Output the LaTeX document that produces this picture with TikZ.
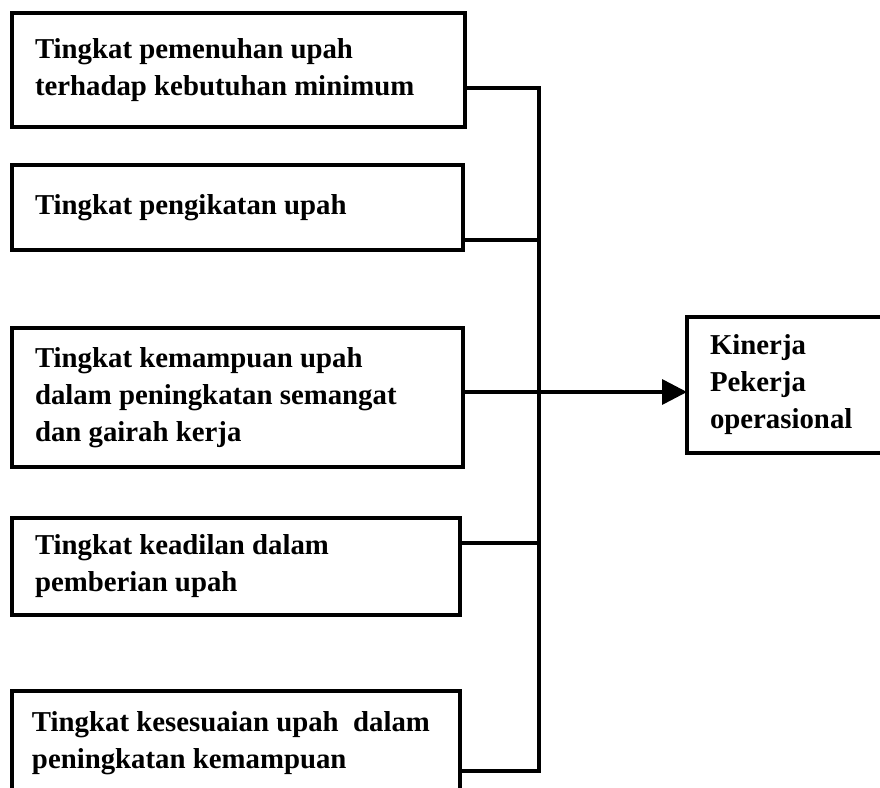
\documentclass[tikz,border=0pt]{standalone}
\usepackage{fontspec}
\setmainfont{Liberation Serif}
\usetikzlibrary{positioning}
\usetikzlibrary{arrows.meta}

\begin{document}
\begin{tikzpicture}[x=0.5pt,y=-0.5pt,line width=1.8pt,font=\fontsize{14.4}{18.5}\selectfont\bfseries,
	factor/.style={draw,line width=2.2pt,align=flush left,inner xsep=11.5pt,inner ysep=0pt,outer sep=0pt}]
	\useasboundingbox (0,0) rectangle (880,788);
	\clip (0,0) rectangle (880,788);

	\node [factor,anchor=north west,text width=203.5pt,minimum height=57pt] at (12,13) (pemenuhan) {Tingkat pemenuhan upah\\terhadap kebutuhan minimum};
	\node [factor,below=19pt of pemenuhan.south west,anchor=north west,text width=202.5pt,minimum height=42.5pt] (pengikatan) {Tingkat pengikatan upah};
	\node [factor,below=39pt of pengikatan.south west,anchor=north west,text width=202.5pt,minimum height=69.5pt] (kemampuan) {Tingkat kemampuan upah\\dalam peningkatan semangat\\dan gairah kerja};
	\node [factor,below=25.5pt of kemampuan.south west,anchor=north west,text width=201pt,minimum height=48.5pt] (keadilan) {Tingkat keadilan dalam\\pemberian upah};
	\node [factor,below=38pt of keadilan.south west,anchor=north west,text width=204pt,inner xsep=10pt,minimum height=52pt] (kesesuaian) {Tingkat kesesuaian upah~ dalam\\peningkatan kemampuan};

	\node [factor,anchor=north west,text width=97pt,minimum height=68pt] at (687,317) (kinerja) {Kinerja\\Pekerja\\operasional};

	% bus line
	\coordinate (bus) at (539,0);
	\coordinate (out1) at ([yshift=-9pt]pemenuhan.east);
	\coordinate (out2) at ([yshift=-16.25pt]pengikatan.east);
	\coordinate (out3) at ([yshift=2.75pt]kemampuan.east);
	\coordinate (out4) at ([yshift=11.75pt]keadilan.east);
	\coordinate (out5) at ([yshift=-14pt]kesesuaian.east);

	\draw (out1) -- (out1 -| bus) -- (out5 -| bus) -- (out5);
	\draw (out2) -- (out2 -| bus);
	\draw (out4) -- (out4 -| bus);
	\draw [-{Triangle[length=12.5pt,width=12.5pt]}] (out3) -- (out3 -| kinerja.west);
\end{tikzpicture}
\end{document}
